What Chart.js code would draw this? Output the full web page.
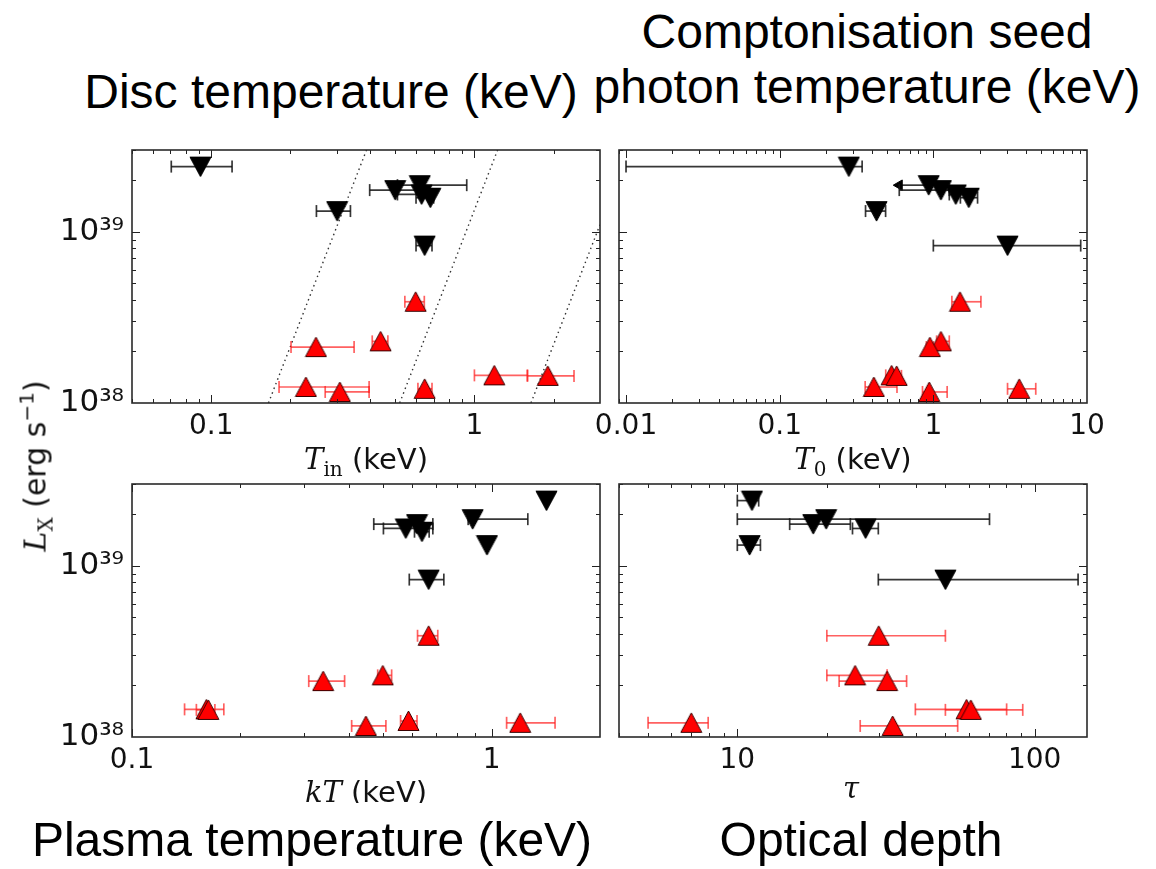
<!DOCTYPE html>
<html>
<head>
<meta charset="utf-8">
<script src="https://cdn.jsdelivr.net/npm/chart.js@4.4.1/dist/chart.umd.min.js"></script>
<style>
html,body{margin:0;padding:0;background:#fff;}
#wrap{position:relative;width:1156px;height:869px;overflow:hidden;background:#fff;}
#wrap canvas{position:absolute;}
.title{position:absolute;font-family:"Liberation Sans",Arial,sans-serif;font-size:48px;line-height:48px;color:#000;white-space:nowrap;transform:translateX(-50%);text-align:center;}
.axt{position:absolute;font-family:"DejaVu Sans",sans-serif;font-size:29px;line-height:32px;color:#111;white-space:nowrap;transform:translateX(-50%);}
.m{font-family:"DejaVu Serif","Liberation Serif",serif;font-style:italic;}
.sb{font-family:"DejaVu Serif","Liberation Serif",serif;font-style:normal;font-size:20px;position:relative;top:7px;}
.sp{font-size:20px;position:relative;top:-12px;}
#ylab{position:absolute;left:37px;top:466px;transform:translate(-50%,-50%) rotate(-90deg);font-family:"DejaVu Sans",sans-serif;font-size:30px;line-height:34px;color:#111;white-space:nowrap;}
</style>
</head>
<body>
<div id="wrap">
  <div class="title" style="left:331px;top:68px;">Disc temperature (keV)</div>
  <div class="title" style="left:867px;top:4px;line-height:55px;">Comptonisation seed<br>photon temperature (keV)</div>
  <div class="axt" style="left:366px;top:443px;"><span class="m">T</span><span class="sb">in</span> (keV)</div>
  <div class="axt" style="left:853px;top:443px;"><span class="m">T</span><span class="sb">0</span> (keV)</div>
  <div class="axt" style="left:366px;top:776px;"><span class="m">kT</span> (keV)</div>
  <div class="axt" style="left:851px;top:772px;"><span class="m">τ</span></div>
  <div id="ylab"><span class="m">L</span><span class="sb">X</span> (erg s<span class="sp">−1</span>)</div>
  <div class="title" style="left:312px;top:803px;padding-top:13px;background:#fff;">Plasma temperature (keV)</div>
  <div class="title" style="left:861px;top:803px;padding-top:13px;background:#fff;">Optical depth</div>
</div>
<script>
// ---------- tick labels ----------
const lumTicks = [1e38, 1e39];
const lumTickLabels = ['10³⁸', '10³⁹'];
const tinTicks = [0.1, 1];
const t0Ticks = [0.01, 0.1, 1, 10];
const ktTicks = [0.1, 1];
const tauTicks = [10, 100];

// ---------- luminosities (erg/s) ----------
const lumBlack = [2.4e39, 1.87e39, 1.75e39, 1.65e39, 1.58e39, 1.32e39, 8.3e38];
const lumRed   = [3.9e38, 2.29e38, 2.12e38, 1.45e38, 1.44e38, 1.24e38, 1.21e38, 1.16e38];

// ---------- disc temperature T_in ----------
const tinBlack   = [0.091, 0.62, 0.50, 0.63, 0.68, 0.301, 0.647];
const tinBlackLo = [0.0705, 0.51, 0.40, 0.51, 0.60, 0.251, 0.60];
const tinBlackHi = [0.120, 0.935, 0.62, 0.70, 0.70, 0.338, 0.69];
const tinRed     = [0.598, 0.44, 0.25, 1.19, 1.90, 0.229, 0.647, 0.308];
const tinRedLo   = [0.544, 0.409, 0.201, 1.0, 1.59, 0.181, 0.61, 0.271];
const tinRedHi   = [0.645, 0.469, 0.349, 1.59, 2.39, 0.398, 0.69, 0.398];
// dotted L ∝ T^4 guide lines: endpoints
const discLineT = [[0.165, 0.389], [0.52, 1.225], [1.64, 3.0]];
const discLineL = [[1e38, 3e39], [1e38, 3e39], [1e38, 1.1e39]];

// ---------- seed photon temperature T_0 ----------
const t0Black    = [0.282, 0.933, 1.12, 1.40, 1.70, 0.427, 3.04];
const t0BlackLo  = [0.01, null, 0.60, 1.27, 1.50, 0.362, 1.0];
const t0BlackHi  = [0.344, null, 1.27, 1.67, 1.94, 0.489, 9.1];
const t0BlackLim = [null, 0.60, null, null, null, null, null];
const t0Red      = [1.49, 1.12, 0.95, 0.535, 0.577, 0.41, 3.62, 0.94];
const t0RedLo    = [1.32, 1.05, 0.90, 0.49, 0.52, 0.36, 3.04, 0.85];
const t0RedHi    = [2.04, 1.27, 1.0, 0.58, 0.62, 0.58, 4.64, 1.23];

// ---------- plasma temperature kT ----------
const ktBlack   = [1.42, 0.885, 0.62, 0.577, 0.64, 0.97, 0.668];
const ktBlackLo = [null, 0.86, 0.47, 0.50, 0.61, null, 0.59];
const ktBlackHi = [null, 1.26, 0.686, 0.686, 0.67, null, 0.736];
const ktRed     = [0.668, 0.498, 0.34, 0.161, 0.163, 0.587, 1.20, 0.447];
const ktRedLo   = [0.622, 0.482, 0.31, 0.14, 0.151, 0.558, 1.10, 0.408];
const ktRedHi   = [0.708, 0.527, 0.39, 0.18, 0.17, 0.62, 1.50, 0.508];

// ---------- optical depth tau ----------
const tauBlack   = [11.2, 19.9, 18.0, 27.0, null, 11.0, 50.1];
const tauBlackLo = [10, 10, 15.0, 24.4, null, 10, 29.8];
const tauBlackHi = [11.8, 70.5, 24.0, 29.8, null, 11.96, 140];
const tauRed     = [29.9, 24.9, 31.9, 59, 61, null, 7.0, 33.3];
const tauRedLo   = [20.0, 20.0, 22.0, 39.7, 50.1, null, 5.01, 25.9];
const tauRedHi   = [50.1, 31.9, 37.1, 80.5, 91.2, null, 7.98, 55.1];

// ---------- styling ----------
const BLACK_BAR = 'rgba(20,20,20,0.85)';
const RED_BAR = 'rgba(255,30,30,0.7)';

function triangleImage(up, fill, stroke) {
  const c = document.createElement('canvas');
  c.width = 23; c.height = 22;
  const g = c.getContext('2d');
  g.beginPath();
  if (up) { g.moveTo(11.5, 1); g.lineTo(22, 20.5); g.lineTo(1, 20.5); }
  else { g.moveTo(1, 1.5); g.lineTo(22, 1.5); g.lineTo(11.5, 21); }
  g.closePath();
  g.fillStyle = fill; g.fill();
  g.lineWidth = 1; g.strokeStyle = stroke; g.stroke();
  return c;
}
const triUp = triangleImage(true, '#ff0000', '#3a0000');
const triDown = triangleImage(false, '#000000', '#000000');

function isClose(a, b) { return Math.abs(Math.log10(a) - Math.log10(b)) < 1e-6; }
function logTicks(min, max) {
  const out = [];
  for (let e = Math.floor(Math.log10(min)); e <= Math.ceil(Math.log10(max)); e++) {
    for (let m = 1; m <= 9; m++) {
      const v = m * Math.pow(10, e);
      if (v >= min * (1 - 1e-9) && v <= max * (1 + 1e-9)) out.push(v);
    }
  }
  return out;
}

function markerSet(xs, ys, img) {
  const data = [];
  xs.forEach((x, i) => { if (x != null) data.push({x: x, y: ys[i]}); });
  return {data, showLine: false, pointStyle: img, pointRadius: 10, pointHoverRadius: 10, order: 0};
}
function errorSets(lo, hi, ys, color) {
  const out = [];
  lo.forEach((l, i) => {
    if (l == null || hi[i] == null) return;
    out.push({data: [{x: l, y: ys[i]}, {x: hi[i], y: ys[i]}], showLine: true, borderColor: color,
      borderWidth: 1.7, pointStyle: 'line', pointRotation: 90, pointRadius: 6, pointHoverRadius: 6,
      pointBorderColor: color, pointBorderWidth: 1.7, order: 1});
  });
  return out;
}
function limitSets(vals, lims, ys, color) {
  const out = [];
  lims.forEach((l, i) => {
    if (l == null) return;
    out.push({data: [{x: l, y: ys[i]}, {x: vals[i], y: ys[i]}], showLine: true, borderColor: color,
      borderWidth: 1.7, pointStyle: ['triangle', 'line'], pointRotation: [-90, 0], pointRadius: [6, 0],
      pointBackgroundColor: '#000', pointBorderColor: '#000', pointBorderWidth: 1, order: 1});
  });
  return out;
}
function guideSets(ts, ls) {
  return ts.map((t, i) => ({data: [{x: t[0], y: ls[i][0]}, {x: t[1], y: ls[i][1]}], showLine: true,
    borderColor: '#333', borderWidth: 1.4, borderDash: [1.5, 3.5], pointRadius: 0, order: 2}));
}

const framePlugin = {
  id: 'frame',
  afterDraw(chart, args, opts) {
    const ctx = chart.ctx, a = chart.chartArea;
    ctx.save();
    ctx.strokeStyle = '#222';
    ctx.lineWidth = 1;
    const xs = chart.scales.x, ys = chart.scales.y;
    xs.ticks.forEach(t => {
      const p = Math.round(xs.getPixelForValue(t.value)) + 0.5;
      if (p < a.left || p > a.right) return;
      const len = opts.xMajor.some(v => isClose(v, t.value)) ? 8 : 4;
      ctx.beginPath();
      ctx.moveTo(p, a.bottom); ctx.lineTo(p, a.bottom - len);
      ctx.moveTo(p, a.top); ctx.lineTo(p, a.top + len);
      ctx.stroke();
    });
    ys.ticks.forEach(t => {
      const p = Math.round(ys.getPixelForValue(t.value)) + 0.5;
      if (p < a.top || p > a.bottom) return;
      const len = opts.yMajor.some(v => isClose(v, t.value)) ? 8 : 4;
      ctx.beginPath();
      ctx.moveTo(a.left, p); ctx.lineTo(a.left + len, p);
      ctx.moveTo(a.right, p); ctx.lineTo(a.right - len, p);
      ctx.stroke();
    });
    ctx.lineWidth = 1.6;
    ctx.strokeStyle = '#2a2a2a';
    ctx.strokeRect(a.left, a.top, a.right - a.left, a.bottom - a.top);
    ctx.restore();
  }
};

const wrap = document.getElementById('wrap');
const PADL = 130, PADT = 20, PADR = 40, PADB = 50;

function buildPanel(p) {
  const [L, T, R, B] = p.box;
  const cv = document.createElement('canvas');
  cv.width = R - L + PADL + PADR;
  cv.height = B - T + PADT + PADB;
  cv.style.left = (L - PADL) + 'px';
  cv.style.top = (T - PADT) + 'px';
  wrap.insertBefore(cv, wrap.firstChild);

  let datasets = [markerSet(p.bx, lumBlack, triDown), markerSet(p.rx, lumRed, triUp)];
  datasets = datasets.concat(errorSets(p.blo, p.bhi, lumBlack, BLACK_BAR));
  datasets = datasets.concat(errorSets(p.rlo, p.rhi, lumRed, RED_BAR));
  if (p.blim) datasets = datasets.concat(limitSets(p.bx, p.blim, lumBlack, BLACK_BAR));
  if (p.guides) datasets = datasets.concat(guideSets(p.guides[0], p.guides[1]));

  new Chart(cv, {
    type: 'scatter',
    data: {datasets},
    plugins: [framePlugin],
    options: {
      responsive: false, animation: false, events: [],
      layout: {padding: {left: 0, top: PADT, right: PADR, bottom: 0}, autoPadding: false},
      plugins: {legend: {display: false}, tooltip: {enabled: false}, frame: {xMajor: p.xMajor, yMajor: lumTicks}},
      scales: {
        x: {
          type: 'logarithmic', min: p.xMin, max: p.xMax, bounds: 'data',
          grid: {display: false, drawTicks: false}, border: {display: false},
          ticks: {autoSkip: false, maxRotation: 0, minRotation: 0, padding: 7, color: '#111',
            font: {family: 'DejaVu Sans', size: 28},
            callback: v => { const m = p.xMajor.find(t => isClose(t, v)); return m !== undefined ? String(m) : ''; }},
          afterBuildTicks: s => { s.ticks = logTicks(p.xMin, p.xMax).map(v => ({value: v})); },
          afterFit: s => { s.height = PADB; s.paddingLeft = 0; s.paddingRight = 0; }
        },
        y: {
          type: 'logarithmic', position: 'left', min: 1e38, max: 3e39, bounds: 'data',
          grid: {display: false, drawTicks: false}, border: {display: false},
          ticks: {display: p.showY, autoSkip: false, padding: 8, color: '#111',
            font: {family: 'DejaVu Sans', size: 31},
            callback: v => { const k = lumTicks.findIndex(t => isClose(t, v)); return k >= 0 ? lumTickLabels[k] : ''; }},
          afterBuildTicks: s => { s.ticks = logTicks(1e38, 3e39).map(v => ({value: v})); },
          afterFit: s => { s.width = PADL; s.paddingTop = 0; s.paddingBottom = 0; }
        }
      }
    }
  });
}

buildPanel({box: [132, 150, 600, 403], xMin: 0.05, xMax: 3, xMajor: tinTicks, showY: true,
  bx: tinBlack, blo: tinBlackLo, bhi: tinBlackHi, rx: tinRed, rlo: tinRedLo, rhi: tinRedHi,
  guides: [discLineT, discLineL]});
buildPanel({box: [619, 150, 1087, 403], xMin: 0.009, xMax: 10, xMajor: t0Ticks, showY: false,
  bx: t0Black, blo: t0BlackLo, bhi: t0BlackHi, blim: t0BlackLim, rx: t0Red, rlo: t0RedLo, rhi: t0RedHi});
buildPanel({box: [132, 484, 600, 737], xMin: 0.1, xMax: 2, xMajor: ktTicks, showY: true,
  bx: ktBlack, blo: ktBlackLo, bhi: ktBlackHi, rx: ktRed, rlo: ktRedLo, rhi: ktRedHi});
buildPanel({box: [619, 484, 1087, 737], xMin: 4, xMax: 150, xMajor: tauTicks, showY: false,
  bx: tauBlack, blo: tauBlackLo, bhi: tauBlackHi, rx: tauRed, rlo: tauRedLo, rhi: tauRedHi});
</script>
</body>
</html>
